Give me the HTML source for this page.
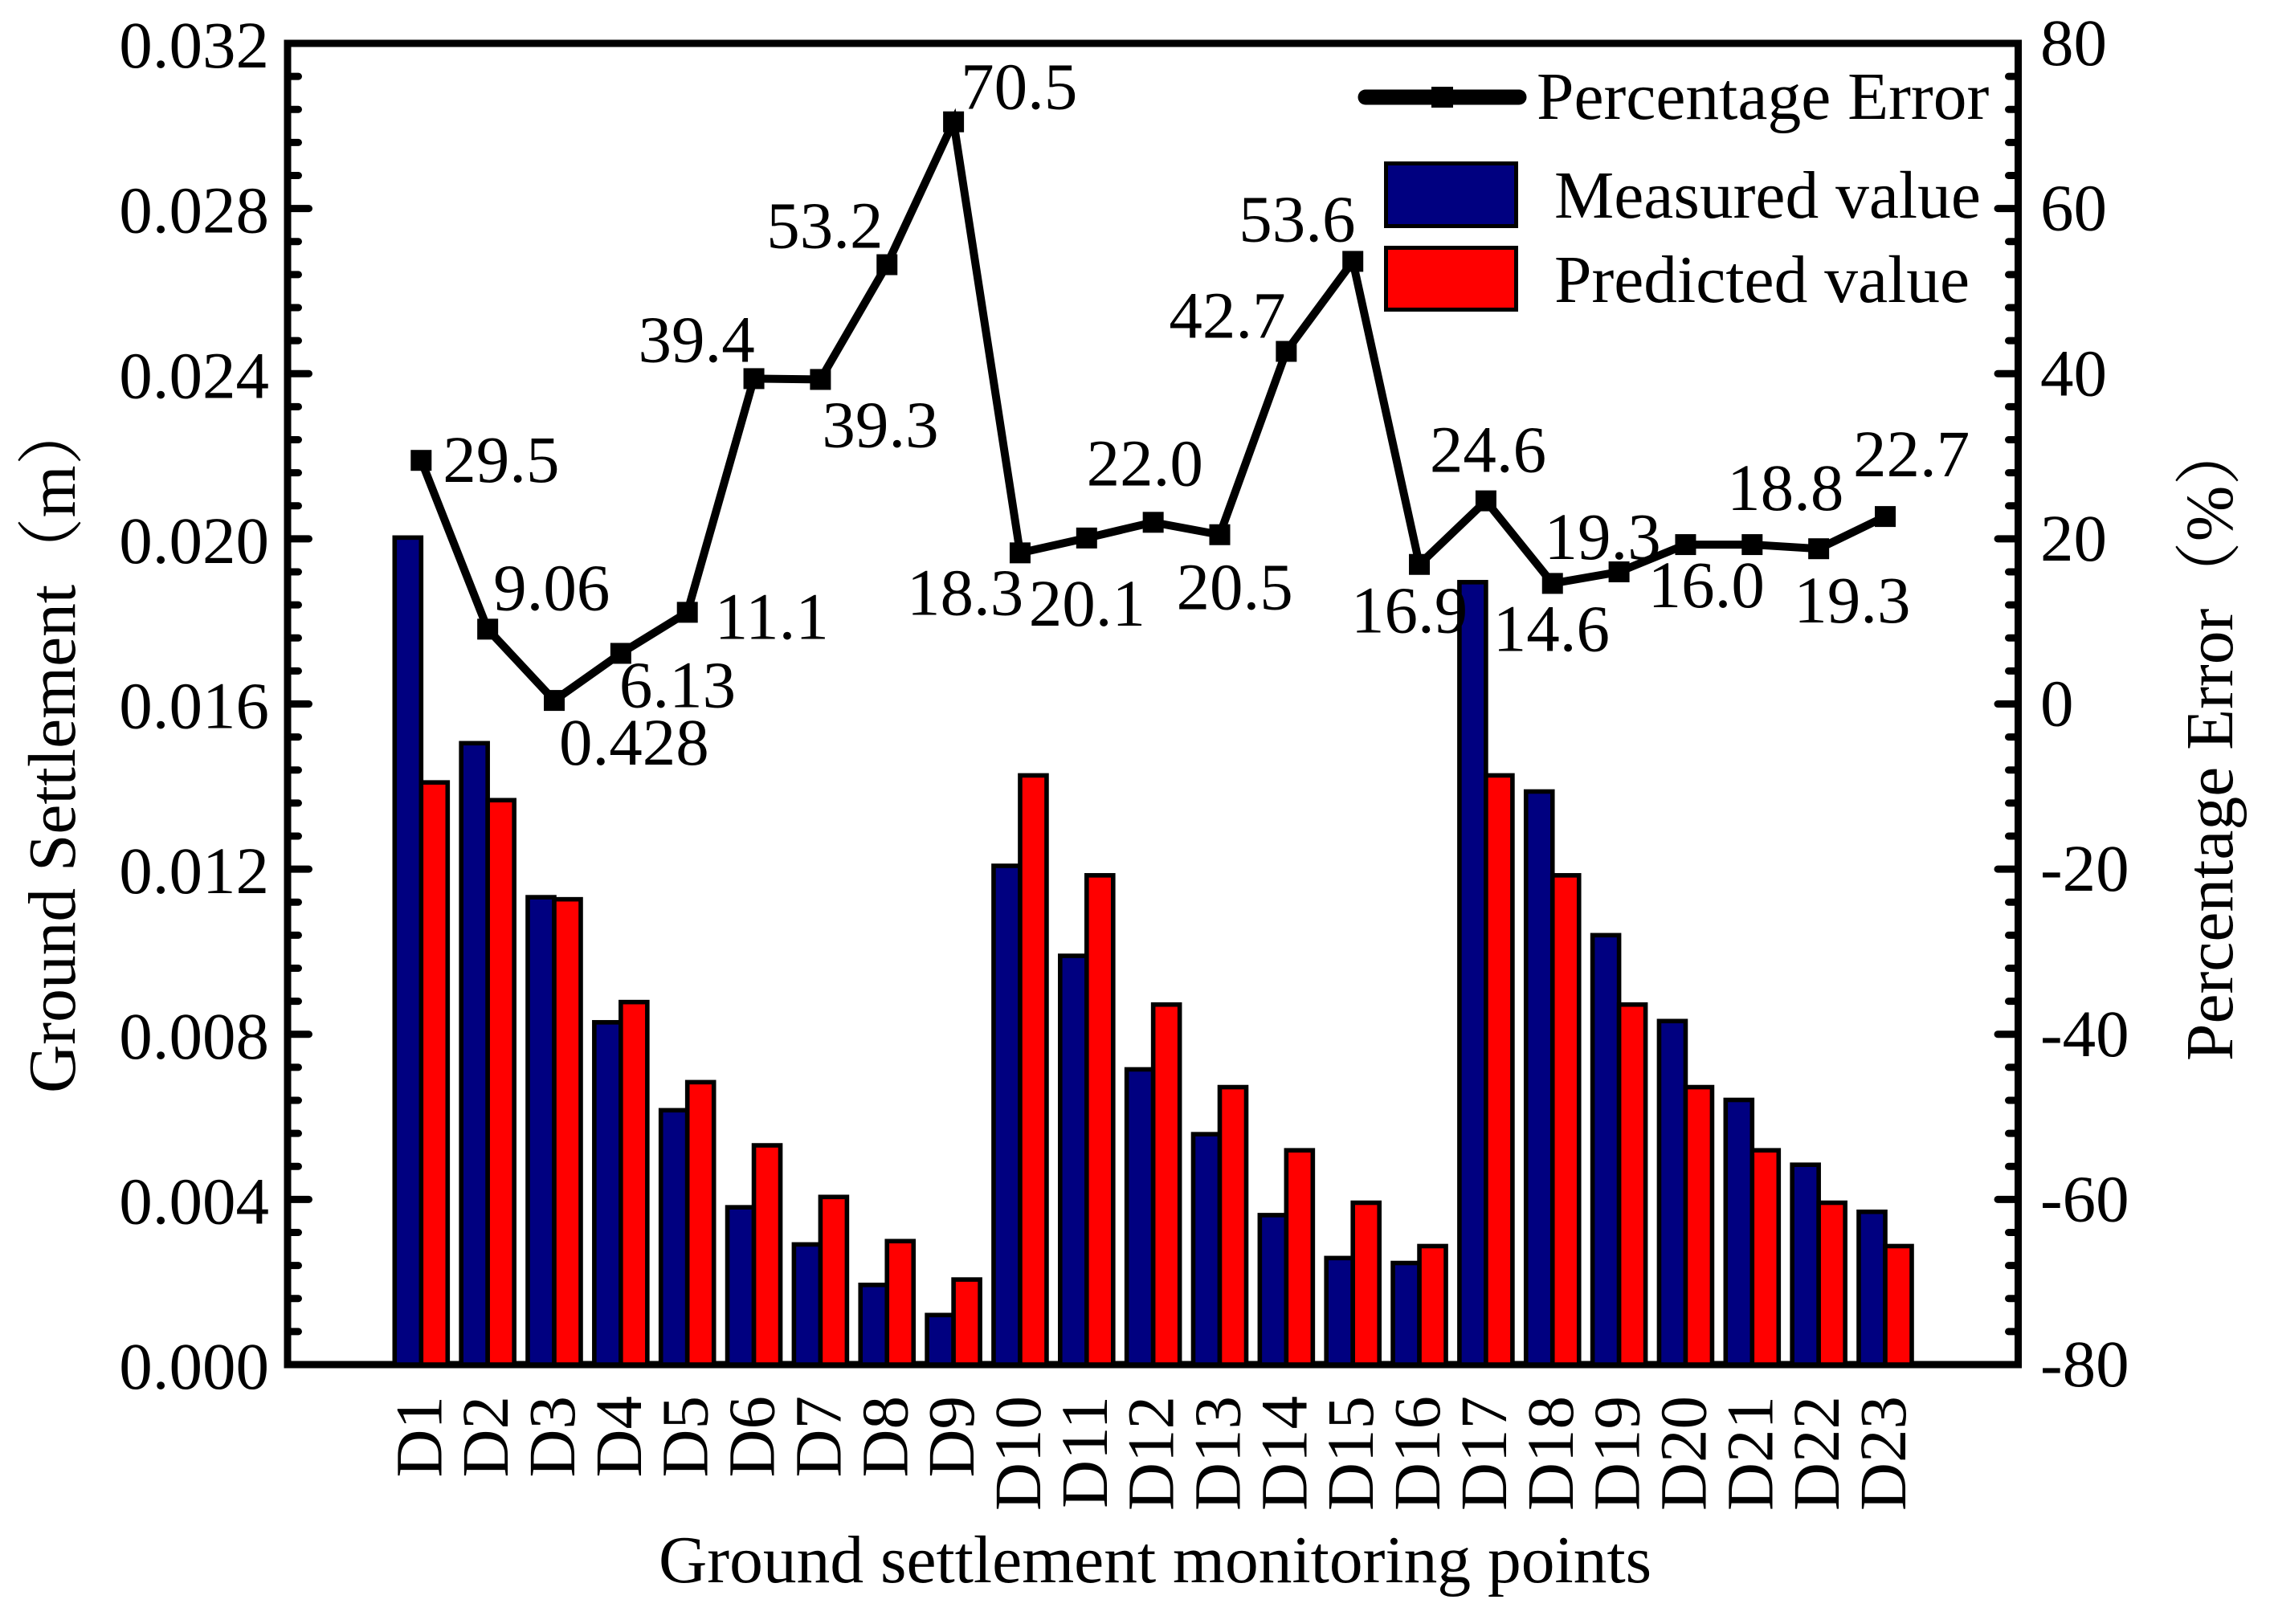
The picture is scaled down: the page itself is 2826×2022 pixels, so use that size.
<!DOCTYPE html>
<html>
<head>
<meta charset="utf-8">
<title>Ground settlement chart</title>
<style>
html,body{margin:0;padding:0;background:#fff}
svg{display:block}
text{font-family:"Liberation Serif","Noto Serif CJK SC",serif;fill:#000;font-size:83px}
text.big{font-size:83.5px}
</style>
</head>
<body>
<svg id="chart" xmlns="http://www.w3.org/2000/svg" width="2826" height="2022" viewBox="0 0 2826 2022">
<rect x="0" y="0" width="2826" height="2022" fill="#fff"/>
<g id="axes"></g>
<g id="bars"></g>
<g id="labels"></g>
<g id="line"></g>
<text class="big" x="820" y="1970">Ground settlement monitoring points</text>
<text class="big" transform="translate(93 1361) rotate(-90)">Ground Settlement（m）</text>
<text class="big" transform="translate(2779 1321) rotate(-90)">Percentage Error（%）</text>
<g>
<line x1="1700" y1="121" x2="1891" y2="121" stroke="#000" stroke-width="19" stroke-linecap="round"/>
<rect x="1782" y="108" width="27" height="26" fill="#000"/>
<text class="big" x="1913" y="148">Percentage Error</text>
<rect x="1725.5" y="203.5" width="162" height="78" fill="#000080" stroke="#000" stroke-width="5"/>
<text class="big" x="1935" y="271">Measured value</text>
<rect x="1725.5" y="308.5" width="162" height="77" fill="#ff0000" stroke="#000" stroke-width="5"/>
<text class="big" x="1935" y="376">Predicted value</text>
</g>
</svg>
<script>
const categories = ['D1','D2','D3','D4','D5','D6','D7','D8','D9','D10','D11','D12','D13','D14','D15','D16','D17','D18','D19','D20','D21','D22','D23'];
const measuredValues = [0.02003,0.01505,0.01132,0.00829,0.00616,0.00381,0.00291,0.00193,0.00120,0.01208,0.00990,0.00715,0.00558,0.00362,0.00258,0.00246,0.01895,0.01388,0.01040,0.00832,0.00641,0.00484,0.00370];
const predictedValues = [0.01410,0.01367,0.01127,0.00878,0.00684,0.00531,0.00406,0.00299,0.00206,0.01427,0.01185,0.00872,0.00672,0.00519,0.00392,0.00287,0.01427,0.01185,0.00872,0.00672,0.00519,0.00392,0.00287];
const errorValues = [29.5,9.06,0.428,6.13,11.1,39.4,39.3,53.2,70.5,18.3,20.1,22.0,20.5,42.7,53.6,16.9,24.6,14.6,16.0,19.3,19.3,18.8,22.7];
const errorLabels = ['29.5','9.06','0.428','6.13','11.1','39.4','39.3','53.2','70.5','18.3','20.1','22.0','20.5','42.7','53.6','16.9','24.6','14.6','16.0','19.3','19.3','18.8','22.7'];
const leftTickLabels = ['0.000','0.004','0.008','0.012','0.016','0.020','0.024','0.028','0.032'];
const rightTickLabels = ['-80','-60','-40','-20','0','20','40','60','80'];

// Layout, not data: label placement relative to each point (dx, dy)
const labelOffsetX = [27,7,6,-2,34,-144,2,-150,9,-141,-72,-83,-54,-146,-142,-85,-70,-74,36,-176,52,-114,-40];
const labelOffsetY = [27,-24,80,67,33,-21,84,-21,-16,77,109,-46,93,-17,-25,85,-36,84,44,18,97,-48,-50];

const PLOT = {left:358, right:2512.5, top:54, bottom:1699};
const NS = 'http://www.w3.org/2000/svg';
const LEFT_MAX = 0.032, RIGHT_MIN = -80, RIGHT_MAX = 80;
const CAT_START = 524.3, CAT_STEP = 82.85, BAR_W = 33;

function xCat(i){ return CAT_START + CAT_STEP * i; }
function yLeft(v){ return PLOT.bottom - (v / LEFT_MAX) * (PLOT.bottom - PLOT.top); }
function yRight(v){ return PLOT.bottom - ((v - RIGHT_MIN) / (RIGHT_MAX - RIGHT_MIN)) * (PLOT.bottom - PLOT.top); }
function make(tag){ return document.createElementNS(NS, tag); }
function setAll(el, o){ for (const k in o) el.setAttribute(k, o[k]); }

const axes = document.getElementById('axes');
const bars = document.getElementById('bars');
const labels = document.getElementById('labels');
const lineG = document.getElementById('line');

// Ticks
const majorCount = leftTickLabels.length - 1;
const stepPx = (PLOT.bottom - PLOT.top) / majorCount;
for (let i = 0; i <= majorCount; i++) {
  const y = PLOT.bottom - stepPx * i;
  if (i > 0 && i < majorCount) {
    const tl = make('line');
    setAll(tl, {x1:PLOT.left, x2:384.5, y1:y, y2:y, stroke:'#000', 'stroke-width':9, 'stroke-linecap':'round'});
    
    
    axes.appendChild(tl);
    const tr = make('line');
    setAll(tr, {x1:PLOT.right, x2:2487, y1:y, y2:y, stroke:'#000', 'stroke-width':9, 'stroke-linecap':'round'});
    
    
    axes.appendChild(tr);
  }
  if (i < majorCount) {
    for (let m = 1; m < 5; m++) {
      const my = y - stepPx * m / 5;
      const ml = make('line');
      setAll(ml, {x1:PLOT.left, x2:371.5, y1:my, y2:my, stroke:'#000', 'stroke-width':9, 'stroke-linecap':'round'});
      
      
      axes.appendChild(ml);
      const mr = make('line');
      setAll(mr, {x1:PLOT.right, x2:2500.5, y1:my, y2:my, stroke:'#000', 'stroke-width':9, 'stroke-linecap':'round'});
      
      
      axes.appendChild(mr);
    }
  }
}

// Tick labels
leftTickLabels.forEach(function(t){
  const el = make('text');
  setAll(el, {x:335, y:yLeft(parseFloat(t)) + 30, 'text-anchor':'end'});
  el.textContent = t;
  
  
  axes.appendChild(el);
});
rightTickLabels.forEach(function(t){
  const el = make('text');
  setAll(el, {x:2540, y:yRight(parseFloat(t)) + 27});
  el.textContent = t;
  
  
  axes.appendChild(el);
});

// Frame
const frame = make('rect');
setAll(frame, {x:PLOT.left, y:PLOT.top, width:PLOT.right - PLOT.left, height:PLOT.bottom - PLOT.top, fill:'none', stroke:'#000', 'stroke-width':9});


axes.appendChild(frame);

// Bars and category labels
categories.forEach(function(c, i){
  const cx = xCat(i);
  const yM = yLeft(measuredValues[i]);
  const b1 = make('rect');
  setAll(b1, {x:cx - BAR_W, y:yM, width:BAR_W, height:PLOT.bottom - yM, fill:'#000080', stroke:'#000', 'stroke-width':5.6});
  
  
  bars.appendChild(b1);
  const yP = yLeft(predictedValues[i]);
  const b2 = make('rect');
  setAll(b2, {x:cx, y:yP, width:BAR_W, height:PLOT.bottom - yP, fill:'#ff0000', stroke:'#000', 'stroke-width':5.6});
  
  
  bars.appendChild(b2);
  const t = make('text');
  setAll(t, {transform:'translate(' + (cx + 25) + ' 1738) rotate(-90)', 'text-anchor':'end'});
  t.textContent = c;
  
  
  axes.appendChild(t);
});

// Point labels
errorLabels.forEach(function(s, i){
  const t = make('text');
  setAll(t, {x:xCat(i) + labelOffsetX[i], y:yRight(errorValues[i]) + labelOffsetY[i]});
  t.textContent = s;
  
  
  labels.appendChild(t);
});

// Line and markers
const poly = make('polyline');
setAll(poly, {points:errorValues.map(function(v, i){ return xCat(i) + ',' + yRight(v); }).join(' '), fill:'none', stroke:'#000', 'stroke-width':10, 'stroke-linejoin':'miter'});


lineG.appendChild(poly);
errorValues.forEach(function(v, i){
  const m = make('rect');
  setAll(m, {x:xCat(i) - 13, y:yRight(v) - 13, width:26, height:26, fill:'#000'});
  
  
  lineG.appendChild(m);
});
</script>
</body>
</html>
